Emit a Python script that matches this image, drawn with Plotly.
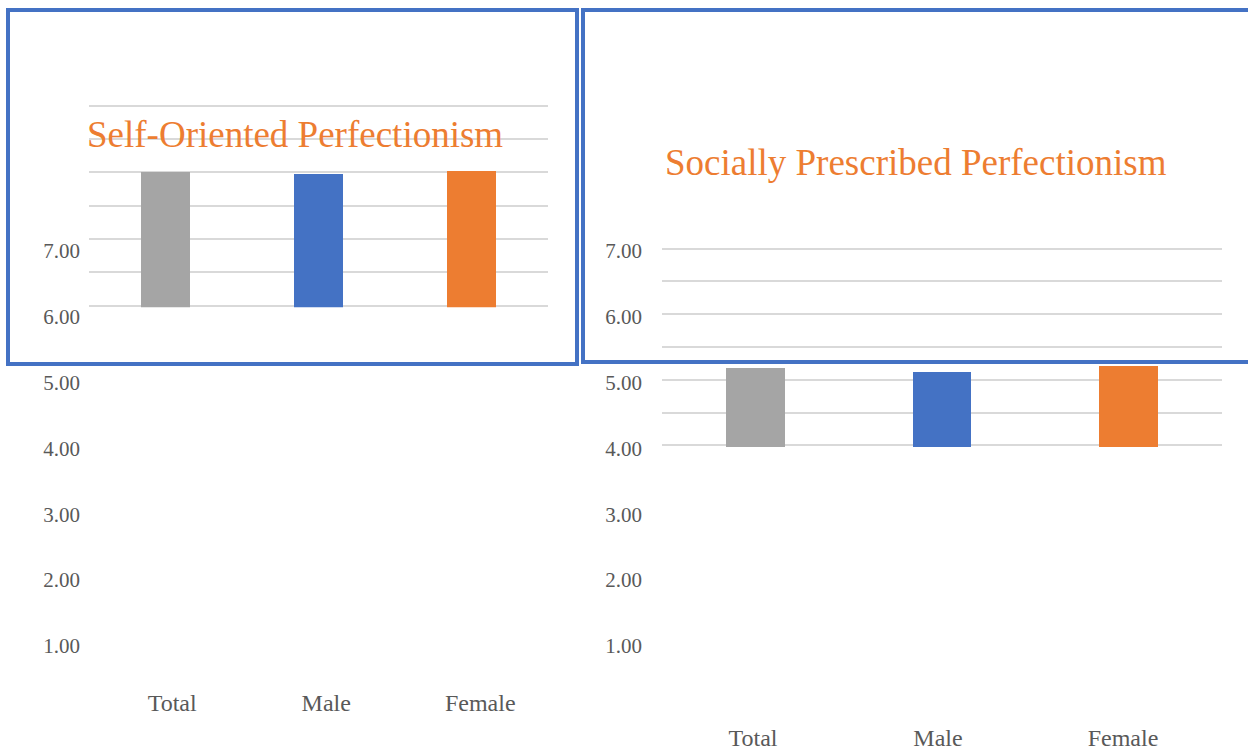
import plotly.graph_objects as go

W, H = 1248, 749

# Mean scores by group
categories = ["Total", "Male", "Female"]
self_oriented = [6.00, 5.97, 6.02]
socially_prescribed = [5.18, 5.12, 5.21]

# Scale ticks shown beside each chart
scale_ticks = [1, 2, 3, 4, 5, 6, 7]
tick_labels = [f"{v:.2f}" for v in scale_ticks]

titles = ["Self-Oriented Perfectionism", "Socially Prescribed Perfectionism"]
bar_colors = ["#A5A5A5", "#4472C4", "#ED7D31"]

SERIF = "Liberation Serif, Times New Roman, serif"
TEXT_GREY = "#595959"
FRAME_BLUE = "#4472C4"

# value window of the bar panels; padded a hair so the 4.00 and 7.00
# gridlines are kept instead of being clipped at the panel edges
Y_LO, Y_HI, PAD = 4.0, 7.0, 0.025


def px_x(p):
    return p / W


def px_y(p):
    return 1 - p / H


def panel_domain(px_lo, px_hi):
    """Vertical domain so that Y_LO sits at px_lo and Y_HI at px_hi (pixels from top)."""
    per_unit = (px_lo - px_hi) / (Y_HI - Y_LO)
    return [px_y(px_lo + PAD * per_unit), px_y(px_hi - PAD * per_unit)]


fig = go.Figure()

fig.add_trace(go.Bar(
    x=categories, y=self_oriented, width=0.314,
    marker=dict(color=bar_colors, line=dict(width=0)),
    xaxis="x", yaxis="y", showlegend=False,
))
fig.add_trace(go.Bar(
    x=categories, y=socially_prescribed, width=0.316,
    marker=dict(color=bar_colors, line=dict(width=0)),
    xaxis="x2", yaxis="y2", showlegend=False,
))
# Empty traces that register the label axes of each chart
for xa, ya in (("x3", "y3"), ("x4", "y4")):
    fig.add_trace(go.Scatter(
        x=categories, y=[None] * len(categories), mode="markers",
        xaxis=xa, yaxis=ya, showlegend=False, hoverinfo="skip",
    ))

bar_x = dict(type="category", range=[-0.5, 2.5], showticklabels=False,
             showgrid=False, zeroline=False, showline=False, ticks="",
             automargin=False)
bar_y = dict(range=[Y_LO - PAD, Y_HI + PAD], tick0=Y_LO, dtick=0.5, showgrid=True,
             gridcolor="#D9D9D9", gridwidth=1.6, showticklabels=False,
             zeroline=False, showline=False, ticks="", automargin=False)
label_y = dict(range=[0, 8], domain=[px_y(711.9), px_y(184.6)],
               tickmode="array", tickvals=scale_ticks, ticktext=tick_labels,
               showgrid=False, zeroline=False, showline=False, ticks="",
               anchor="free", automargin=False,
               tickfont=dict(family=SERIF, size=21, color=TEXT_GREY))
label_x = dict(type="category", range=[-0.5, 2.5], showgrid=False,
               zeroline=False, showline=False, ticks="", anchor="free",
               automargin=False,
               tickfont=dict(family=SERIF, size=24, color=TEXT_GREY))

fig.update_layout(
    width=W, height=H, autosize=False,
    margin=dict(l=0, r=0, t=0, b=0, pad=0),
    paper_bgcolor="white", plot_bgcolor="rgba(0,0,0,0)",
    bargap=0,
    xaxis=dict(**bar_x, domain=[px_x(89), px_x(548)], anchor="y"),
    yaxis=dict(**bar_y, domain=panel_domain(305.6, 105.8), anchor="x"),
    xaxis2=dict(**bar_x, domain=[px_x(662), px_x(1222)], anchor="y2"),
    yaxis2=dict(**bar_y, domain=panel_domain(445.3, 248.7), anchor="x2"),
    xaxis3=dict(**label_x, domain=[px_x(95.2), px_x(557.2)], position=px_y(686)),
    yaxis3=dict(**label_y, position=px_x(80)),
    xaxis4=dict(**label_x, domain=[px_x(660.5), px_x(1215.5)], position=px_y(720.5)),
    yaxis4=dict(**label_y, position=px_x(642)),
    annotations=[
        dict(text=titles[0], x=px_x(294.5), y=px_y(134.5), xref="paper", yref="paper",
             xanchor="center", yanchor="middle", showarrow=False,
             font=dict(family=SERIF, size=37, color="#ED7D31")),
        dict(text=titles[1], x=px_x(916), y=px_y(162), xref="paper", yref="paper",
             xanchor="center", yanchor="middle", showarrow=False,
             font=dict(family=SERIF, size=37, color="#ED7D31")),
    ],
    shapes=[
        dict(type="rect", xref="paper", yref="paper", layer="above",
             x0=px_x(8), x1=px_x(577), y0=px_y(364), y1=px_y(10),
             line=dict(color=FRAME_BLUE, width=4), fillcolor="rgba(0,0,0,0)"),
        dict(type="rect", xref="paper", yref="paper", layer="above",
             x0=px_x(583), x1=px_x(1256), y0=px_y(362), y1=px_y(10),
             line=dict(color=FRAME_BLUE, width=4), fillcolor="rgba(0,0,0,0)"),
    ],
)

fig.write_html("out.html")
